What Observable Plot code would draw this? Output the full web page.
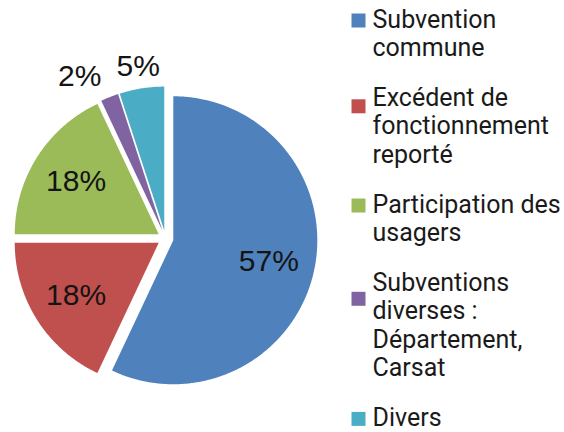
<!DOCTYPE html>
<html><head><meta charset="utf-8">
<script src="https://cdn.jsdelivr.net/npm/d3@7"></script>
<script src="https://cdn.jsdelivr.net/npm/@observablehq/plot@0.6"></script>
<style>html,body{margin:0;padding:0;background:#fff;overflow:hidden}</style>
</head><body><div id="chart"></div>
<script>
// ---- data ----
const categories = ["Subvention commune", "Excédent de fonctionnement reporté", "Participation des usagers", "Subventions diverses : Département, Carsat", "Divers"];
const shares = [57, 18, 18, 2, 5];
const percentLabels = ["57%", "18%", "18%", "2%", "5%"];
const legendLines = [["Subvention", "commune"], ["Excédent de", "fonctionnement", "reporté"], ["Participation des", "usagers"], ["Subventions", "diverses :", "Département,", "Carsat"], ["Divers"]];
const colors = ["#4f81bd", "#c0504d", "#9bbb59", "#8064a2", "#4bacc6"];

// ---- layout ----
const W = 564, H = 432;
const cx = 165, cy = 238, R = 144, explode = 8;
const total = d3.sum(shares);
const slicePts = [], labels = [];
let acc = 0;
shares.forEach((v, i) => {
  const a0 = acc / total * 2 * Math.PI;
  acc += v;
  const a1 = acc / total * 2 * Math.PI;
  const mid = (a0 + a1) / 2;
  const sx = Math.sin(mid), sy = -Math.cos(mid);
  const vx = cx + explode * sx, vy = cy + explode * sy;
  slicePts.push({name: categories[i], x: vx, y: vy});
  const n = Math.max(2, Math.ceil((a1 - a0) / (Math.PI / 360)));
  for (let k = 0; k <= n; k++) {
    const a = a0 + (a1 - a0) * k / n;
    slicePts.push({name: categories[i], x: vx + R * Math.sin(a), y: vy - R * Math.cos(a)});
  }
  slicePts.push({name: categories[i], x: vx, y: vy});
  const inside = v / total >= 0.1;
  const r = inside ? 0.68 * R : R + 22;
  const anchor = inside || Math.abs(sx) < 0.3 ? "middle" : (sx < 0 ? "end" : "start");
  labels.push({text: percentLabels[i], x: vx + r * sx, y: vy + r * sy, anchor});
});

const legendText = [], legendKeys = [];
let lineIdx = 0;
legendLines.forEach((lines, e) => {
  const b0 = 27 + lineIdx * 28.4 + e * 21.5;
  lines.forEach((t, j) => legendText.push({text: t, y: b0 + j * 28.4}));
  legendKeys.push({name: categories[e], y: b0 - 7 + Math.max(0, lines.length - 2) * 7.5});
  lineIdx += lines.length;
});

const chart = Plot.plot({
  width: W, height: H,
  margin: 0,
  x: {domain: [0, W], range: [0, W], axis: null},
  y: {domain: [0, H], range: [0, H], axis: null},
  color: {domain: categories, range: colors},
  style: {background: "#fff"},
  marks: [
    Plot.line(slicePts, {x: "x", y: "y", z: "name", fill: "name", stroke: "none", curve: "linear"}),
    Plot.text(labels.filter(d => d.anchor === "middle"), {x: "x", y: "y", text: "text", fontSize: 30, fontFamily: "Liberation Sans, Arial, sans-serif", fill: "#141414", textAnchor: "middle"}),
    Plot.text(labels.filter(d => d.anchor === "end"), {x: "x", y: "y", text: "text", fontSize: 30, fontFamily: "Liberation Sans, Arial, sans-serif", fill: "#141414", textAnchor: "end"}),
    Plot.text(labels.filter(d => d.anchor === "start"), {x: "x", y: "y", text: "text", fontSize: 30, fontFamily: "Liberation Sans, Arial, sans-serif", fill: "#141414", textAnchor: "start"}),
    Plot.dot(legendKeys, {x: () => 358, y: "y", fill: "name", symbol: "square", r: 7.9, stroke: "none"}),
    Plot.text(legendText, {x: () => 372, y: "y", text: "text", textAnchor: "start", lineAnchor: "bottom", fontSize: 25, fontFamily: "Roboto, sans-serif", fill: "#1a1a1a"})
  ]
});
document.getElementById("chart").appendChild(chart);
</script>
</body></html>
